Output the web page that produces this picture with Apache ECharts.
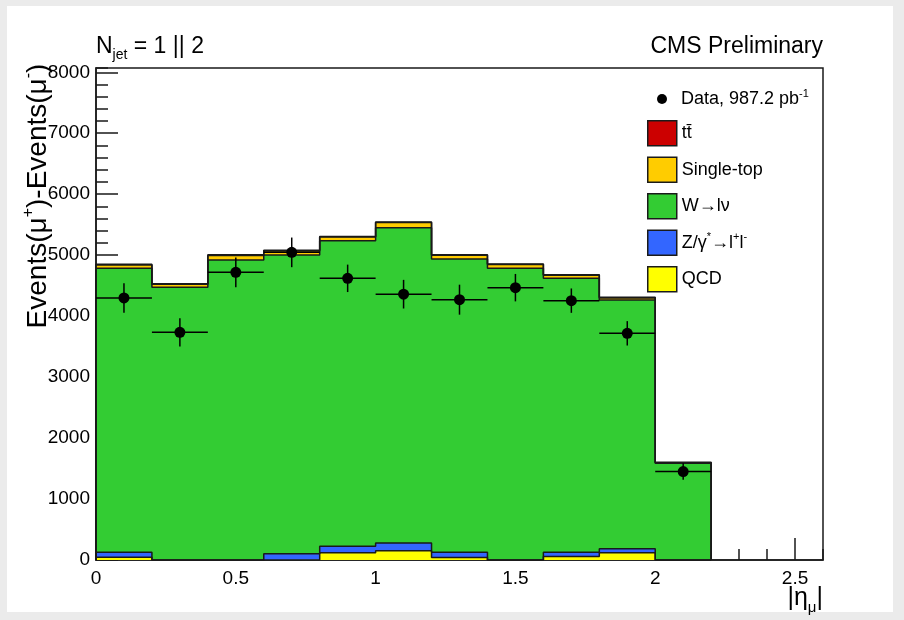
<!DOCTYPE html>
<html><head><meta charset="utf-8">
<script src="https://cdn.jsdelivr.net/npm/echarts@6/dist/echarts.min.js"></script>
<style>
html,body{margin:0;padding:0;background:#ebebeb;width:904px;height:620px;overflow:hidden;}
#bg{position:absolute;left:7px;top:6px;width:886px;height:606px;background:#fff;}
#chart{position:absolute;left:0;top:0;width:904px;height:620px;}
</style></head><body>
<div id="bg"></div><div id="chart"></div>
<script>
// ---- data ----
const binEdges = [0, 0.2, 0.4, 0.6, 0.8, 1.0, 1.2, 1.4, 1.6, 1.8, 2.0, 2.2];
const qcd       = [46, 0, 0, 5, 118, 151, 41, 0, 57, 118, 0];
const zjets     = [82, 0, 0, 97, 108, 128, 87, 0, 71, 66, 0];
const wjets     = [4656, 4472, 4921, 4901, 5012, 5172, 4810, 4784, 4492, 4082, 1585];
const singleTop = [55, 51, 75, 66, 60, 83, 60, 61, 50, 32, 10];
const ttbar     = [10, 10, 12, 10, 10, 10, 10, 10, 10, 10, 8];
const dataVals  = [4298, 3734, 4718, 5046, 4620, 4360, 4270, 4467, 4254, 3718, 1451];
const dataErr   = [243, 232, 245, 243, 225, 235, 246, 225, 200, 200, 136];
const xTickLabels = ['0', '0.5', '1', '1.5', '2', '2.5'];
const yTickLabels = ['0', '1000', '2000', '3000', '4000', '5000', '6000', '7000', '8000'];

const FONT = '"Liberation Sans", Arial, Helvetica, sans-serif';
const OUT = '#1a1a1a';

// stack components, bottom to top
const comps = [
  {name: 'QCD', vals: qcd, color: '#ffff00', label: 'QCD'},
  {name: 'Z', vals: zjets, color: '#3366ff', label: 'Z/γ{sup|*}→l{sup|+}l{sup|-}'},
  {name: 'W', vals: wjets, color: '#33cc33', label: 'W→lν'},
  {name: 'Single-top', vals: singleTop, color: '#ffcc00', label: 'Single-top'},
  {name: 'tt', vals: ttbar, color: '#cc0000', label: 'tt̄'}
];
// cumulative sums
let running = new Array(qcd.length).fill(0);
comps.forEach(c => {
  running = running.map((r, i) => r + c.vals[i]);
  c.cum = running.slice();
});

function stepData(cum) {
  const pts = [[binEdges[0], 0]];
  for (let i = 0; i < cum.length; i++) pts.push([binEdges[i], cum[i]]);
  pts.push([binEdges[binEdges.length - 1], cum[cum.length - 1]]);
  pts.push([binEdges[binEdges.length - 1], 0]);
  return pts;
}

// draw order: top-most cumulative first
const histSeries = comps.slice().reverse().map(c => ({
  type: 'line', name: c.name, data: stepData(c.cum), step: 'end',
  symbol: 'none', showSymbol: false, silent: true, animation: false,
  lineStyle: {color: OUT, width: 1.5},
  itemStyle: {color: c.color},
  areaStyle: {color: c.color, opacity: 1, origin: 'start'},
  z: 2
}));

const DATA_NAME = 'Data';
const dataSeries = {
  type: 'custom', name: DATA_NAME, z: 5, animation: false, silent: true,
  itemStyle: {color: '#000'},
  data: dataVals.map((v, i) => [(binEdges[i] + binEdges[i + 1]) / 2, v, dataErr[i], binEdges[i], binEdges[i + 1]]),
  encode: {x: 0, y: 1},
  renderItem: function (params, api) {
    const xc = api.value(0), y = api.value(1), e = api.value(2), x0 = api.value(3), x1 = api.value(4);
    const pc = api.coord([xc, y]);
    const pl = api.coord([x0, y]);
    const pr = api.coord([x1, y]);
    const pt = api.coord([xc, y + e]);
    const pb = api.coord([xc, y - e]);
    const ls = {stroke: '#000', lineWidth: 1.5};
    return {type: 'group', children: [
      {type: 'line', shape: {x1: pl[0], y1: pl[1], x2: pr[0], y2: pr[1]}, style: ls},
      {type: 'line', shape: {x1: pt[0], y1: pt[1], x2: pb[0], y2: pb[1]}, style: ls},
      {type: 'circle', shape: {cx: pc[0], cy: pc[1], r: 5.5}, style: {fill: '#000'}}
    ]};
  }
};

const legendRich = {
  sup: {fontSize: 11, fontFamily: FONT, color: '#000', verticalAlign: 'top', lineHeight: 12}
};

const chart = echarts.init(document.getElementById('chart'), null, {renderer: 'canvas'});
chart.setOption({
  animation: false,
  backgroundColor: 'transparent',
  title: [
    {text: 'N{sub|jet} = 1 || 2', left: 96, top: 32, padding: 0,
     textStyle: {fontSize: 23, fontWeight: 'normal', color: '#000', fontFamily: FONT, lineHeight: 30,
       rich: {sub: {fontSize: 14, fontFamily: FONT, color: '#000', verticalAlign: 'bottom', lineHeight: 14}}}},
    {text: 'CMS Preliminary', right: 81, top: 32, padding: 0,
     textStyle: {fontSize: 23, fontWeight: 'normal', color: '#000', fontFamily: FONT, lineHeight: 30}}
  ],
  grid: {left: 96, right: 81, top: 68, bottom: 60, show: true, borderColor: OUT, borderWidth: 1.5,
         backgroundColor: 'transparent', containLabel: false, outerBoundsMode: 'none'},
  xAxis: [
    {type: 'value', min: 0, max: 2.6, interval: 0.5, position: 'bottom',
     axisLine: {show: true, onZero: false, lineStyle: {color: OUT, width: 1.5}},
     axisTick: {show: true, inside: true, length: 22, lineStyle: {color: OUT, width: 1.5}},
     axisLabel: {show: true, fontSize: 19, color: '#000', fontFamily: FONT, margin: 9, showMaxLabel: false,
       formatter: v => { const k = Math.round(v / 0.5); return (Math.abs(v - k * 0.5) < 1e-6 && k < xTickLabels.length) ? xTickLabels[k] : ''; }},
     splitLine: {show: false}},
    {type: 'value', min: 0, max: 2.6, interval: 0.1, position: 'bottom',
     axisLine: {show: false, onZero: false},
     axisTick: {show: true, inside: true, length: 11, lineStyle: {color: OUT, width: 1.5}},
     axisLabel: {show: false}, splitLine: {show: false}}
  ],
  yAxis: [
    {type: 'value', min: 0, max: 8070, interval: 1000, position: 'left',
     axisLine: {show: true, onZero: false, lineStyle: {color: OUT, width: 1.5}},
     axisTick: {show: true, inside: true, length: 22, lineStyle: {color: OUT, width: 1.5}},
     axisLabel: {show: true, fontSize: 19, color: '#000', fontFamily: FONT, margin: 6, showMaxLabel: false,
       formatter: v => { const k = Math.round(v / 1000); return (Math.abs(v - k * 1000) < 1e-6 && k < yTickLabels.length) ? yTickLabels[k] : ''; }},
     splitLine: {show: false}},
    {type: 'value', min: 0, max: 8070, interval: 200, position: 'left',
     axisLine: {show: false, onZero: false},
     axisTick: {show: true, inside: true, length: 12, lineStyle: {color: OUT, width: 1.5}},
     axisLabel: {show: false}, splitLine: {show: false}}
  ],
  legend: [
    {data: [{name: DATA_NAME, icon: 'circle', itemStyle: {color: '#000', borderWidth: 0}}],
     left: 657, top: 88, padding: 0, itemWidth: 28, itemHeight: 10, selectedMode: false,
     formatter: () => 'Data, 987.2 pb{sup|-1}',
     textStyle: {fontSize: 18, color: '#000', fontFamily: FONT, lineHeight: 22, rich: legendRich}},
    {data: comps.slice().reverse().map(c => ({name: c.name, icon: 'rect',
       itemStyle: {color: c.color, borderColor: OUT, borderWidth: 1.5}})),
     orient: 'vertical', left: 647, top: 120, padding: 0, itemWidth: 29, itemHeight: 25, itemGap: 10,
     selectedMode: false,
     formatter: name => comps.find(c => c.name === name).label,
     textStyle: {fontSize: 18, color: '#000', fontFamily: FONT, lineHeight: 22, rich: legendRich}}
  ],
  graphic: [
    {type: 'text', x: 38, y: 196, rotation: Math.PI / 2, silent: true,
     style: {text: 'Events(μ{sup|+})-Events(μ{sup|-})', fontSize: 28, fontFamily: FONT, fill: '#000',
       align: 'center', verticalAlign: 'middle', lineHeight: 34,
       rich: {sup: {fontSize: 16, fontFamily: FONT, fill: '#000', verticalAlign: 'top', lineHeight: 16}}}},
    {type: 'text', x: 823, y: 598, silent: true,
     style: {text: '|η{sub|μ}|', fontSize: 25, fontFamily: FONT, fill: '#000',
       align: 'right', verticalAlign: 'middle', lineHeight: 34,
       rich: {sub: {fontSize: 15, fontFamily: FONT, fill: '#000', verticalAlign: 'bottom', lineHeight: 16}}}}
  ],
  series: histSeries.concat([dataSeries])
});
</script>
</body></html>
